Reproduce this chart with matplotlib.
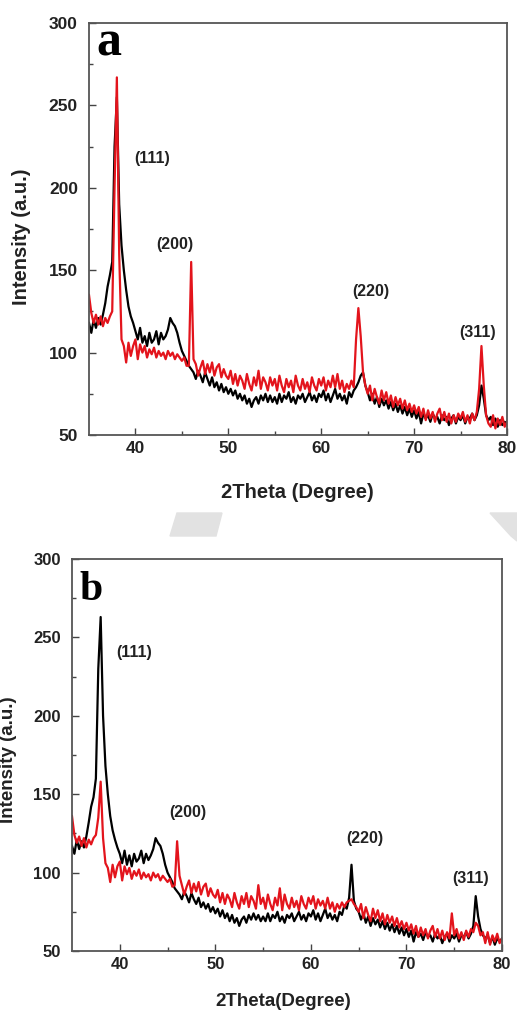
import numpy as np
import matplotlib as mpl
mpl.use('Agg')
import matplotlib.pyplot as plt
from matplotlib.patches import Polygon

# 2theta grid of the scans (0.25 deg step, 35..80)
two_theta = np.arange(35.0, 80.001, 0.25)

# panel a
a_black = [
    118, 112, 120, 115, 121, 117, 123, 130, 140, 147, 155, 225, 255, 190, 165, 150, 138, 128, 122, 118,
    113, 108, 115, 106, 110, 104, 112, 106, 108, 113, 105, 112, 108, 110, 114, 121, 118, 116, 112, 106,
    101, 98, 95, 92, 90, 88, 84, 89, 86, 82, 88, 84, 80, 85, 79, 82, 77, 81, 76, 79,
    75, 78, 74, 77, 72, 75, 71, 74, 69, 72, 67, 71, 73, 69, 74, 71, 75, 70, 74, 70,
    73, 69, 75, 70, 74, 72, 76, 70, 73, 69, 74, 72, 75, 70, 73, 76, 71, 74, 70, 75,
    73, 77, 71, 75, 70, 74, 78, 72, 75, 71, 74, 69, 76, 73, 77, 79, 82, 86, 88, 80,
    76, 71, 75, 69, 73, 67, 72, 68, 71, 66, 70, 65, 69, 64, 68, 63, 67, 62, 66, 61,
    65, 60, 64, 57, 63, 60, 62, 58, 63, 60, 61, 57, 62, 59, 61, 56, 60, 62, 57, 61,
    59, 62, 57, 61, 60, 63, 59, 62, 68, 80, 72, 62, 59, 61, 56, 60, 55, 59, 56, 58,
    57]
a_red = [
    135, 124, 118, 123, 117, 122, 116, 121, 118, 122, 125, 200, 267, 160, 108, 104, 94, 106, 98, 104,
    108, 96, 105, 100, 104, 97, 102, 99, 103, 97, 101, 98, 100, 96, 101, 98, 100, 96, 99, 97,
    95, 97, 92, 92, 155, 96, 93, 86, 91, 95, 87, 93, 88, 94, 86, 91, 93, 85, 90, 86,
    84, 89, 81, 87, 80, 86, 83, 78, 87, 81, 77, 85, 80, 89, 78, 85, 82, 77, 85, 80,
    84, 77, 86, 80, 76, 84, 79, 83, 76, 86, 80, 77, 84, 78, 82, 76, 85, 80, 77, 84,
    80, 85, 77, 83, 79, 86, 79, 87, 78, 83, 76, 81, 78, 83, 79, 108, 127, 110, 88, 80,
    75, 80, 71, 78, 73, 69, 77, 71, 76, 69, 74, 67, 73, 68, 72, 66, 71, 65, 69, 64,
    68, 63, 67, 61, 66, 59, 65, 60, 64, 58, 63, 66, 59, 64, 58, 63, 57, 62, 58, 63,
    60, 64, 58, 62, 57, 63, 59, 64, 78, 104, 80, 62, 57, 55, 62, 54, 60, 56, 61, 55,
    58]

# panel b
b_black = [
    117, 112, 121, 115, 120, 116, 123, 132, 142, 148, 160, 230, 263, 200, 168, 150, 136, 127, 121, 116,
    112, 106, 114, 105, 111, 104, 112, 107, 109, 114, 106, 112, 108, 111, 115, 122, 119, 117, 112, 105,
    100, 97, 94, 90, 88, 86, 83, 88, 85, 81, 87, 83, 80, 84, 78, 81, 77, 80, 75, 78,
    74, 77, 72, 76, 71, 74, 69, 73, 68, 71, 66, 70, 72, 68, 73, 70, 74, 70, 73, 69,
    72, 69, 74, 69, 73, 71, 75, 69, 72, 68, 73, 71, 74, 69, 72, 75, 70, 73, 69, 74,
    72, 76, 70, 74, 69, 73, 77, 71, 74, 70, 73, 69, 75, 73, 79, 77, 84, 105, 82, 77,
    75, 70, 74, 68, 72, 66, 71, 67, 70, 65, 69, 64, 68, 63, 67, 62, 66, 61, 65, 60,
    64, 59, 63, 56, 62, 59, 61, 57, 62, 59, 60, 56, 61, 58, 60, 55, 59, 61, 56, 60,
    58, 61, 56, 60, 59, 62, 58, 61, 66, 85, 72, 64, 60, 58, 60, 55, 59, 54, 58, 56,
    58]
b_red = [
    136, 124, 119, 123, 117, 122, 116, 121, 118, 122, 124, 135, 158, 122, 106, 103, 94, 105, 97, 104,
    107, 95, 104, 99, 103, 96, 101, 98, 102, 96, 100, 97, 99, 95, 100, 97, 99, 95, 98, 96,
    94, 96, 91, 92, 120, 98, 92, 86, 91, 95, 87, 93, 88, 94, 86, 91, 93, 85, 90, 86,
    84, 89, 81, 87, 80, 86, 83, 78, 87, 81, 77, 85, 80, 87, 78, 85, 82, 77, 92, 80,
    84, 77, 86, 80, 76, 84, 79, 90, 76, 86, 80, 77, 84, 78, 82, 76, 85, 80, 77, 84,
    80, 85, 77, 83, 79, 82, 77, 84, 77, 81, 75, 80, 77, 81, 78, 81, 82, 83, 80, 78,
    75, 80, 71, 78, 73, 69, 77, 71, 76, 69, 74, 67, 73, 68, 72, 66, 71, 65, 69, 64,
    68, 63, 67, 61, 66, 59, 65, 60, 64, 58, 63, 66, 59, 64, 58, 63, 57, 62, 58, 74,
    60, 64, 58, 62, 57, 63, 59, 64, 62, 68, 66, 60, 62, 55, 62, 54, 60, 56, 61, 55,
    58]

hkl = ['(111)', '(200)', '(220)', '(311)']

W, H = 517, 1011
SANS = 'Liberation Sans'


def fx(x):
    return x / W


def fy(y):
    return 1 - y / H


def panel(box, black, red, letter, labels_px, xlab, xlab_px, ylab_px, fs, lab_fs, letter_px, letter_fs):
    left, top, right, bottom = box
    ax = fig.add_axes([fx(left), fy(bottom), fx(right - left), (bottom - top) / H])
    ax.plot(two_theta, black, color='black', lw=1.6)
    ax.plot(two_theta, red, color='#e3141c', lw=1.6)
    ax.set_xlim(35, 80)
    ax.set_ylim(50, 300)
    ax.set_xticks([40, 50, 60, 70, 80])
    ax.set_xticks([45, 55, 65, 75], minor=True)
    ax.set_yticks([50, 100, 150, 200, 250, 300])
    ax.set_yticks([75, 125, 175, 225, 275], minor=True)
    ax.tick_params(which='both', direction='in', color='#444444', width=1)
    ax.tick_params(which='major', length=5)
    ax.tick_params(which='minor', length=3)
    ax.tick_params(axis='y', pad=8)
    ax.tick_params(axis='x', pad=4)
    for t in ax.get_xticklabels() + ax.get_yticklabels():
        t.set_fontfamily(SANS)
        t.set_fontweight('bold')
        t.set_fontsize(fs)
        t.set_color('#222222')
    for s in ax.spines.values():
        s.set_color('#555555')
        s.set_linewidth(1.3)

    for txt, (px, py) in zip(hkl, labels_px):
        fig.text(fx(px), fy(py), txt, ha='center', va='center', fontsize=11.5,
                 fontweight='bold', family=SANS, color='#222222')
    fig.text(fx(xlab_px[0]), fy(xlab_px[1]), xlab, ha='center', va='center',
             fontsize=lab_fs, fontweight='bold', family=SANS, color='#222222')
    fig.text(fx(ylab_px[0]), fy(ylab_px[1]), 'Intensity (a.u.)', ha='center', va='center',
             rotation=90, fontsize=lab_fs, fontweight='bold', family=SANS, color='#222222')
    fig.text(fx(letter_px[0]), fy(letter_px[1]), letter, ha='left', va='baseline',
             fontsize=letter_fs, fontweight='bold', family='Liberation Serif', color='black')
    return ax


fig = plt.figure(figsize=(W / 100, H / 100), dpi=100)

panel((89, 23, 507, 435), a_black, a_red, 'a',
      [(152, 159), (175, 244), (371, 291), (478, 333)],
      '2Theta (Degree)', (297, 493), (22, 237), 12.5, 14.5, (96, 55), 36)

panel((72, 559, 502, 951), b_black, b_red, 'b',
      [(134, 652), (188, 813), (365, 839), (471, 879)],
      '2Theta(Degree)', (283, 1001), (9, 760), 12, 13.5, (79, 600), 30)

# grey watermark pieces between the panels
fig.patches.append(Polygon([(fx(177), fy(513)), (fx(222), fy(513)), (fx(216), fy(536)), (fx(170), fy(536))],
                           closed=True, transform=fig.transFigure, color='#e2e2e2', zorder=0))
fig.patches.append(Polygon([(fx(490), fy(513)), (fx(517), fy(513)), (fx(517), fy(541)), (fx(511), fy(536))],
                           closed=True, transform=fig.transFigure, color='#e2e2e2', zorder=0))

fig.savefig('out.png', dpi=100)
